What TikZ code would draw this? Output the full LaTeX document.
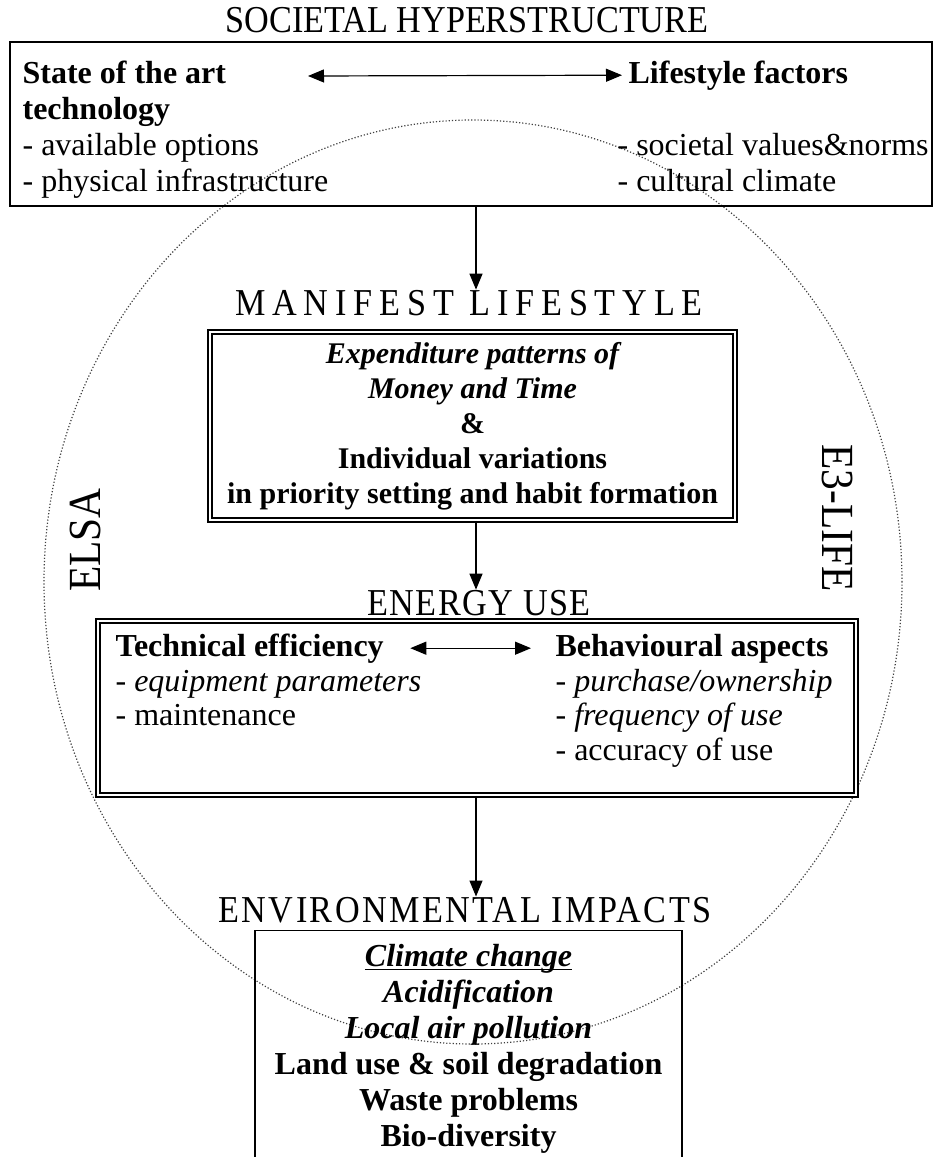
\documentclass[tikz,border=0pt]{standalone}
\usepackage{fontspec}
\setmainfont{Liberation Serif}
\usetikzlibrary{arrows.meta,positioning}
\tikzset{
  hdr/.style={font=\fontsize{19}{22}\selectfont, inner sep=0pt},
  txt/.style={font=\fontsize{16}{18}\selectfont, anchor=base west, inner sep=0pt},
  plainbox/.style={draw, line width=0.6pt, inner sep=0pt},
  dblbox/.style={draw, double, double distance=0.9pt, line width=0.9pt, inner sep=0pt},
  sidelbl/.style={font=\fontsize{23}{25}\selectfont, inner sep=0pt},
}
\newcommand{\spaced}[1]{\addfontfeatures{LetterSpace=#1}}
\newcommand{\narrow}[1]{\scalebox{0.9}[1]{#1}}

\begin{document}
\begin{tikzpicture}[x=0.5pt, y=-0.5pt, >={Triangle[length=8pt,width=6.5pt]}, line width=0.6pt]
  \useasboundingbox (0,0) rectangle (937,1157);
  % the two approaches (dotted ellipse)
  \draw[black!75, densely dotted, line width=0.6pt] (473,582) ellipse [x radius=214.5pt, y radius=231pt];
  \node[sidelbl, rotate=90] (elsa) at (85,540) {\narrow{ELSA}};
  \node[sidelbl, rotate=-90] (e3life) at (837,518) {\narrow{E3-LIFE}};
  \coordinate (ax) at (476,0);

  % 1. societal hyperstructure
  \node[hdr] (sh) at (467,20) {\narrow{SOCIETAL HYPERSTRUCTURE}};
  \node[plainbox, minimum width=461pt, minimum height=82pt] (topbox) at (471,124) {};
  \node[txt] (sota) at (22,83) {\bfseries State of the art};
  \node[txt] (techn) at (22,119) {\bfseries technology};
  \node[txt] (avail) at (22,155) {- available options};
  \node[txt] (phys) at (22,191) {- physical infrastructure};
  \node[txt] (lf) at (628,83) {\bfseries Lifestyle factors};
  \node[txt] (values) at (617,155) {- societal values\&norms};
  \node[txt] (cult) at (617,191) {- cultural climate};
  \coordinate (ta) at (308,76);
  \draw[<->, shorten >=3pt] (ta) -- (lf.west);

  % 2. manifest lifestyle
  \node[hdr] (ml) at (469,303) {\narrow{\spaced{20}MANIFEST LIFESTYLE}};
  \node[dblbox, minimum width=262.5pt, minimum height=94pt, align=center,
        font=\fontsize{15}{17.5}\selectfont\bfseries] (mlbox) at (472.5,426)
    {{\itshape Expenditure patterns of}\\ {\itshape Money and Time}\\ \&\\
     Individual variations\\ in priority setting and habit formation};
  \draw[->] (topbox.south -| ax) -- (ml.north -| ax);

  % 3. energy use
  \node[hdr] (eu) at (479,603) {\narrow{\spaced{4}ENERGY USE}};
  \node[dblbox, minimum width=379pt, minimum height=87pt] (eubox) at (477,708) {};
  \node[txt] (tech) at (115,656) {\bfseries Technical efficiency};
  \node[txt] (equip) at (115,691) {- \itshape equipment parameters};
  \node[txt] (maint) at (115,725) {- maintenance};
  \node[txt] (behav) at (555,656) {\bfseries Behavioural aspects};
  \node[txt] (purch) at (555,691) {- \itshape purchase/ownership};
  \node[txt] (freq) at (555,725) {- \itshape frequency of use};
  \node[txt] (accur) at (555,760) {- accuracy of use};
  \draw[<->, shorten <=13pt, shorten >=12pt] (tech.east) -- (tech.east -| behav.west);
  \draw[->] (mlbox.south -| ax) -- (eu.north -| ax);

  % 4. environmental impacts
  \node[hdr] (ei) at (465,910) {\narrow{\spaced{7}ENVIRONMENTAL IMPACTS}};
  \node[plainbox, minimum width=213.5pt, minimum height=119pt, anchor=north, align=center,
        font=\fontsize{16}{18}\selectfont\bfseries] (eibox) at (468.5,930)
    {{\itshape\underline{\smash{Climate change}}\vphantom{Cg}}\\ {\itshape Acidification}\\ {\itshape Local air pollution}\\
     Land use \& soil degradation\\ Waste problems\\ Bio-diversity};
  \draw[->] (eubox.south -| ax) -- (ei.north -| ax);
\end{tikzpicture}
\end{document}
